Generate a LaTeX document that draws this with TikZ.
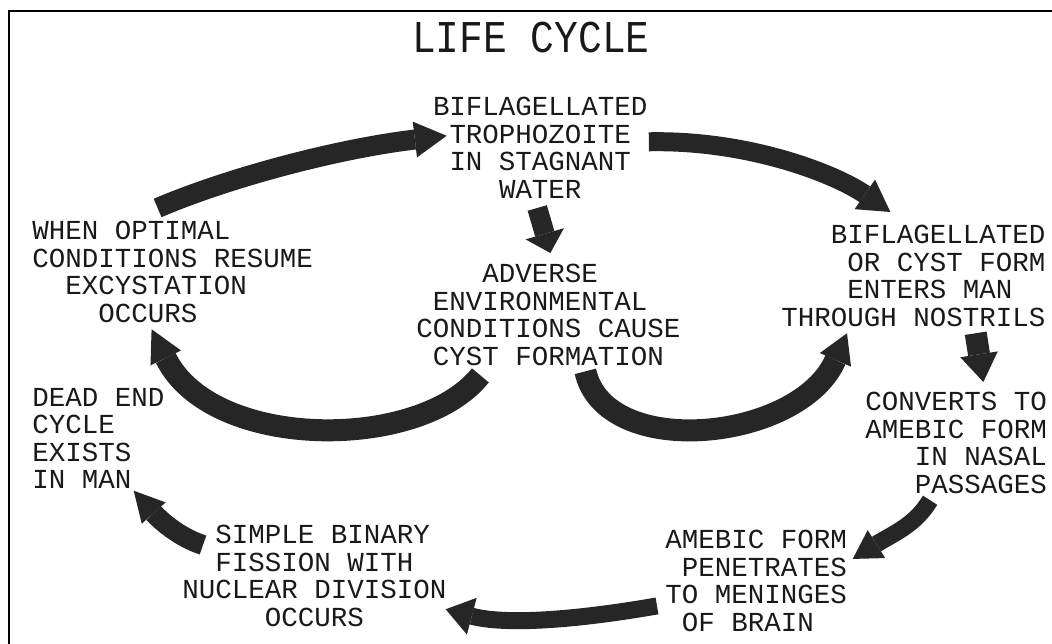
\documentclass[tikz,border=0pt]{standalone}
\usepackage{fontspec}
\setmainfont{Liberation Mono}
\newfontfamily\titlefont[FakeStretch=0.87]{Liberation Mono}
\usepackage{tikz}
\usetikzlibrary{arrows.meta, calc}

\begin{document}
\begin{tikzpicture}[
    x=0.02cm, y=-0.02cm,
    % Styles
    stage/.style={inner sep=0pt, anchor=north west, align=left, text=black!90, font=\fontsize{15.65pt}{15.65pt}\selectfont},
    heading/.style={inner sep=0pt, text=black!90, font=\titlefont\fontsize{25.9pt}{26pt}\selectfont},
    fat/.style n args={3}{draw=black!85, line width=#1, -{Triangle[length=#2 0, width=#3 0, line width=0pt 0]}},
]
\useasboundingbox (0,0) rectangle (1052,644);

% ===== FRAME =====
\draw[line width=0.05cm] (1070,11) -- (9,11) -- (9,660);

% ===== TITLE =====
\node[heading] (title) at (531,38) {LIFE CYCLE};

% ===== STAGES =====
\node[stage, anchor=north, align=center] (troph) at (540.25,97) {BIFLAGELLATED\\TROPHOZOITE\\IN STAGNANT\\WATER};
\node[stage] (adverse) at (416,264) {~~~~ADVERSE\\~ENVIRONMENTAL\\CONDITIONS CAUSE\\~CYST FORMATION};
\node[stage] (excyst) at (32,221) {WHEN OPTIMAL\\CONDITIONS RESUME\\~~EXCYSTATION\\~~~~OCCURS};
\node[stage] (enters) at (781,225) {~~~BIFLAGELLATED\\~~~~OR CYST FORM\\~~~~ENTERS MAN\\THROUGH NOSTRILS};
\node[stage, align=right] (converts) at (865,392) {CONVERTS TO\\AMEBIC FORM\\IN NASAL\\PASSAGES};
\node[stage] (penetr) at (665,530) {AMEBIC FORM\\~PENETRATES\\TO MENINGES\\~OF BRAIN};
\node[stage] (fission) at (182,525) {~~SIMPLE BINARY\\~~FISSION WITH\\NUCLEAR DIVISION\\~~~~~OCCURS};
\node[stage] (deadend) at (32,388) {DEAD END\\CYCLE\\EXISTS\\IN MAN};

% ===== ARROWS =====
% Outer cycle
\draw[fat={0.4cm}{0.64cm}{0.72cm}] ($(excyst.north)+(-15,-13)$) .. controls +(70,-30) and +(-110,13) .. ($(troph.west)+(14,-12)$);
\draw[fat={0.38cm}{0.62cm}{0.72cm}] ($(troph.east)+(1,-6)$) .. controls +(100,-2) and +(-55,-38) .. ($(enters.north)+(-23,-13)$);
\draw[fat={0.44cm}{0.56cm}{0.76cm}] ($(enters.south east)+(-70,6.4)$) -- ($(converts.north)+(27.25,-10)$);
\draw[fat={0.34cm}{0.56cm}{0.66cm}] ($(converts.south)+(-26,6.4)$) .. controls +(-15,25) and +(40,-25) .. ($(penetr.east)+(5.5,-22)$);
\draw[fat={0.34cm}{0.54cm}{0.76cm}] ($(penetr.west)+(-8,25)$) .. controls +(-80,14) and +(60,16) .. ($(fission.south east)+(-1,-17.6)$);
\draw[fat={0.4cm}{0.6cm}{0.64cm}] ($(fission.north west)+(21,20)$) .. controls +(-25,-8) and +(25,28) .. ($(deadend.south east)+(-31,1.4)$);

% Cyst branch
\draw[fat={0.4cm}{0.4cm}{0.8cm}] ($(troph.south)+(-3,9.4)$) -- ($(adverse.north)+(2,-11)$);
\draw[fat={0.44cm}{0.64cm}{0.68cm}] ($(adverse.south)+(-68,9.5)$) .. controls +(-60,76) and +(60,122) .. ($(excyst.south)+(-21,6.4)$);
\draw[fat={0.44cm}{0.58cm}{0.68cm}] ($(adverse.south)+(37,5.5)$) .. controls +(20,90) and +(-47,108) .. ($(enters.south west)+(66,6.4)$);

\end{tikzpicture}
\end{document}
